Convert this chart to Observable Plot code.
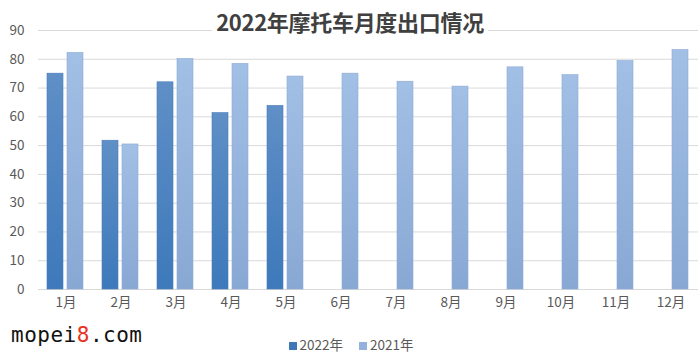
<!DOCTYPE html>
<html><head><meta charset="utf-8">
<script src="https://cdn.jsdelivr.net/npm/d3@7"></script>
<script src="https://cdn.jsdelivr.net/npm/@observablehq/plot@0.6"></script>
<style>
body{margin:0;background:#fff;font-family:"Noto Sans CJK SC","Noto Sans",sans-serif;}
#wrap{position:relative;width:700px;height:360px;overflow:hidden;}
#title{position:absolute;top:6px;left:0;width:700px;text-align:center;pointer-events:none;}
#title span{background:#fff;padding:0 4px;font-size:22px;font-weight:bold;color:#404040;line-height:30px;letter-spacing:-0.3px;}
#legend{position:absolute;top:334px;left:0;width:700px;text-align:center;font-size:13.5px;color:#595959;padding-left:2px;box-sizing:border-box;}
#legend i{display:inline-block;width:8px;height:8px;margin-right:3px;vertical-align:0px;}
#legend span{margin:0 8px;}
#wm{position:absolute;left:11px;top:323px;font-family:"DejaVu Sans Mono",monospace;font-size:21px;color:#111;letter-spacing:0.5px;}
#wm b{color:#e8321e;font-weight:normal;}
</style></head>
<body><div id="wrap"><div id="chart"></div>
<div id="title"><span>2022年摩托车月度出口情况</span></div>
<div id="wm">mopei<b>8</b>.com</div>
<div id="legend"></div>
</div>
<script>
const months = ["1月","2月","3月","4月","5月","6月","7月","8月","9月","10月","11月","12月"];
const series = ["2022年","2021年"];
const values2022 = [75.0, 51.7, 72.0, 61.3, 63.8];
const values2021 = [82.2, 50.4, 80.1, 78.4, 74.0, 75.0, 72.2, 70.5, 77.2, 74.5, 79.4, 83.2];
const yTicks = [0,10,20,30,40,50,60,70,80,90];

const data = [];
months.forEach((m,i)=>{
  if (i < values2022.length) data.push({month:m, series:series[0], value:values2022[i]});
  data.push({month:m, series:series[1], value:values2021[i]});
});

const chart = Plot.plot({
  width:700, height:320,
  marginTop:30, marginBottom:31, marginLeft:36, marginRight:1,
  style:{fontFamily:'"Noto Sans CJK SC","Noto Sans",sans-serif', fontSize:"13.5px", color:"#595959", background:"#fff"},
  fx:{domain:months, padding:0, label:null},
  x:{domain:series, paddingInner:0.19, paddingOuter:0.41, axis:null},
  y:{domain:[0,90], label:null},
  marks:[
    Plot.gridY(yTicks, {stroke:"#d9d9d9", strokeOpacity:1, strokeWidth:1}),
    Plot.axisY(yTicks, {tickSize:0, tickPadding:14, label:null, fill:"#595959"}),
    Plot.axisFx({tickSize:0, tickPadding:8, label:null, anchor:"bottom", fill:"#595959"}),
    Plot.barY(data, {fx:"month", x:"series", y:"value",
      fill:d=> d.series===series[0] ? "url(#g2022)" : "url(#g2021)",
      stroke:d=> d.series===series[0] ? "#4a7cb6" : "#8eaad3", strokeWidth:0.6})
  ]
});
const ns = "http://www.w3.org/2000/svg";
const defs = document.createElementNS(ns,"defs");
defs.innerHTML = `
<linearGradient id="g2022" x1="0" y1="0" x2="0" y2="1">
<stop offset="0" stop-color="#5f8fc6"/><stop offset="1" stop-color="#3d79bb"/></linearGradient>
<linearGradient id="g2021" x1="0" y1="0" x2="0" y2="1">
<stop offset="0" stop-color="#a2bfe5"/><stop offset="1" stop-color="#88a8d4"/></linearGradient>`;
chart.insertBefore(defs, chart.firstChild);
document.getElementById("chart").appendChild(chart);

const cols = ["#3f78b6","#93b1da"];
document.getElementById("legend").innerHTML = series.map((s,i)=>`<span><i style="background:${cols[i]}"></i>${s}</span>`).join("");
</script>
</body></html>
